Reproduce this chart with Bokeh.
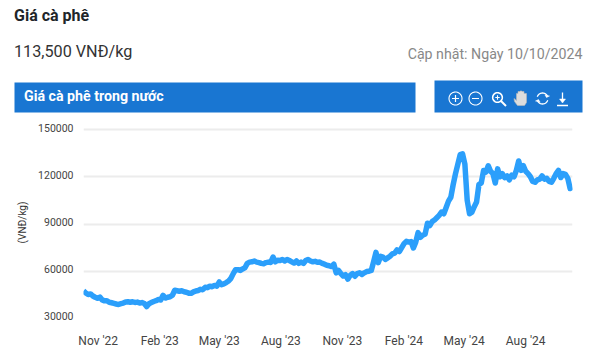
import numpy as np
import pandas as pd
from bokeh.core.properties import value
from bokeh.embed import file_html
from bokeh.layouts import column
from bokeh.models import DatetimeTickFormatter, MonthsTicker, Range1d, FixedTicker
from bokeh.plotting import figure
from bokeh.resources import INLINE

TITLE = "Giá cà phê"
PRICE = "113,500 VNĐ/kg"
UPDATED = "Cập nhật: Ngày 10/10/2024"
BAR_TITLE = "Giá cà phê trong nước"
Y_LABEL = "(VNĐ/kg)"
Y_TICKS = [30000, 60000, 90000, 120000, 150000]
START = "2022-10-10"
END = "2024-10-10"

prices = [
    47500, 46200, 45200, 45600, 44300, 43500, 42800, 43600, 41800, 41200,
    41300, 40300, 40000, 39600, 39200, 38900, 39400, 39800, 40500, 40600,
    40300, 40600, 40200, 40400, 39800, 40100, 39500, 37600, 39400, 40100,
    40800, 41300, 42000, 41800, 44700, 43000, 43500, 43800, 44800, 47900,
    47600, 47300, 47600, 47000, 46700, 46100, 46000, 46900, 47500, 47800,
    48500, 48300, 49800, 49600, 50500, 50200, 51000, 50500, 53200, 51500,
    52000, 52800, 53800, 55500, 58500, 61000, 61000, 60500, 61500, 62200,
    65000, 65800, 66000, 66500, 65800, 65500, 65000, 64800, 65500, 65800,
    65600, 69000, 66000, 67000, 66800, 67500, 66500, 67500, 66800, 66000,
    65200, 66500, 65000, 65800, 65000, 66800, 67500, 66500, 66000, 66300,
    65700, 65800, 65000, 64500, 63800, 63500, 63000, 64500, 59000, 60500,
    58500, 57000, 57800, 55000, 57500, 58500, 56800, 58500, 59000, 58000,
    59000, 59800, 60000, 60500, 66000, 72000, 65500, 69500, 69000, 67500,
    68500, 69500, 71000, 71500, 73500, 72500, 75000, 77500, 79000, 78500,
    78800, 74800, 78500, 84500, 81500, 83000, 83500, 90500, 89000, 91500,
    92500, 94000, 95500, 97500, 96500, 100500, 104500, 107000, 115000, 122000,
    128000, 134000, 134500, 128000, 105000, 96500, 97500, 101000, 104000, 115000,
    116000, 124000, 123000, 127000, 123500, 122000, 116000, 125000, 120000, 122000,
    119500, 120500, 118000, 121000, 120000, 124000, 130000, 124000, 127000, 123500,
    122000, 120000, 117000, 116500, 118000, 118500, 120500, 118500, 119000, 117000,
    116500, 119000, 122000, 124000, 119500, 122000, 121500, 119000, 112500, 113500,
]

dates = pd.date_range(START, END, periods=len(prices))

W = 585
HEAD_H = 120
BLUE = "#1976d2"

# ---------- header strip: ranges are pixels ----------
h = figure(width=W, height=HEAD_H, output_backend="svg", toolbar_location=None,
           x_range=Range1d(0, W), y_range=Range1d(HEAD_H, 0),
           x_axis_location=None, y_axis_location=None, frame_align=False,
           min_border=0, min_border_left=0, min_border_right=0, min_border_top=0, min_border_bottom=0)
h.outline_line_color = None
h.grid.visible = False


def label(text, x, y, size, color, align="left", weight="normal"):
    h.text([x], [y], text=[text], text_font=value("Roboto"), text_font_size=size, text_color=color,
           text_align=align, text_baseline="middle", text_font_style=weight)


def poly(xs, ys, fill=None, line="white", lw=1.2):
    if fill:
        h.patch(list(xs), list(ys), fill_color=fill, line_color=line, line_width=lw)
    else:
        h.line(list(xs), list(ys), line_color=line, line_width=lw)


def circle(cx, cy, r, lw=1.1):
    t = np.linspace(0, 2 * np.pi, 40)
    poly(cx + r * np.cos(t), cy + r * np.sin(t), lw=lw)


label(TITLE, 13.5, 15, "16px", "#212529", weight="bold")
label(PRICE, 13.5, 51, "16.2px", "#333333")
label(UPDATED, 582, 53.5, "14.2px", "#888888", align="right")
h.quad(left=[14], right=[415], top=[82], bottom=[112], fill_color=BLUE, line_color=None)
label(BAR_TITLE, 23.5, 95.5, "14.2px", "#ffffff", weight="bold")
h.quad(left=[434], right=[582], top=[80], bottom=[112], fill_color=BLUE, line_color=None)

WHITE = "#ffffff"
circle(455, 98, 6.5)
poly([451.5, 458.5], [98, 98])
poly([455, 455], [94.5, 101.5])
circle(475, 98, 6.5)
poly([471.5, 478.5], [98, 98])
circle(497, 97, 4.8, lw=1.6)
poly([500.5, 505.5], [100.5, 105.5], lw=2)
poly([494.8, 499.2], [97, 97], lw=1.1)
poly([497, 497], [94.8, 99.2], lw=1.1)
poly([513.5, 516, 516, 517.5, 517.5, 519.5, 519.5, 521.5, 521.5, 523.5, 523.5, 526,
      526, 524, 517, 514],
     [98, 100, 93, 93, 91, 91, 90.5, 90.5, 91, 91, 93, 93, 102, 105, 105, 101],
     fill="#dddddd", line="#bbbbbb", lw=0.6)
t = np.linspace(np.pi * 1.1, np.pi * 1.85, 14)
poly(542 + 5.5 * np.cos(t), 98 + 5.5 * np.sin(t), lw=1.3)
t2 = t - np.pi
poly(542 + 5.5 * np.cos(t2), 98 + 5.5 * np.sin(t2), lw=1.3)
poly([546, 549, 544.5], [97, 95.5, 94.5], fill=WHITE, lw=0.5)
poly([538, 535, 539.5], [99, 100.5, 101.5], fill=WHITE, lw=0.5)
poly([562, 562], [92, 101], lw=1.3)
poly([559, 565, 562], [98.5, 98.5, 102.5], fill=WHITE, lw=0.5)
poly([556.5, 567.5], [105, 105], lw=1.3)

# ---------- chart ----------
# 635 VND per pixel; three spare pixels above the 150000 gridline keep its label in range
p = figure(width=W, height=232, output_backend="svg", toolbar_location=None,
           x_axis_type="datetime", frame_align=False,
           x_range=Range1d(pd.Timestamp(START), pd.Timestamp(END)),
           y_range=Range1d(30000, 151905),
           min_border_left=83, min_border_right=W - 572, min_border_top=6, min_border_bottom=34)
p.outline_line_color = None
p.xgrid.visible = False
p.ygrid.grid_line_color = "#ececec"
p.ygrid.grid_line_width = 2
p.ygrid.ticker = FixedTicker(ticks=Y_TICKS)

# the reference's tick labels sit about 2px above their gridlines
LABEL_SHIFT = 1270
p.yaxis.ticker = FixedTicker(ticks=[v + LABEL_SHIFT for v in Y_TICKS])
p.yaxis.major_label_overrides = {v + LABEL_SHIFT: str(v) for v in Y_TICKS}
p.yaxis.major_label_text_font = "Roboto"
p.yaxis.major_label_text_font_size = "10.5px"
p.yaxis.major_label_text_color = "#444444"
p.yaxis.major_label_standoff = 10
p.yaxis.major_tick_out = 0
p.yaxis.major_tick_in = 0
p.yaxis.axis_line_color = None
p.yaxis.major_tick_line_color = None
p.yaxis.minor_tick_line_color = None
p.yaxis.axis_label = Y_LABEL
p.yaxis.axis_label_text_font = "Roboto"
p.yaxis.axis_label_text_font_style = "normal"
p.yaxis.axis_label_text_font_size = "10px"
p.yaxis.axis_label_text_color = "#333333"
p.yaxis.axis_label_standoff = 7

p.xaxis.ticker = MonthsTicker(months=[1, 4, 7, 10])
p.xaxis.formatter = DatetimeTickFormatter(months="%b '%y", days="%b '%y")
p.xaxis.major_label_text_font = "Roboto"
p.xaxis.major_label_text_font_size = "12px"
p.xaxis.major_label_text_color = "#444444"
p.xaxis.major_label_standoff = 15
p.xaxis.major_tick_out = 0
p.xaxis.major_tick_in = 0
p.xaxis.axis_line_color = None
p.xaxis.major_tick_line_color = None
p.xaxis.minor_tick_line_color = None

p.line(dates, prices, line_color="#2b9ffb", line_width=5.5, line_join="round")

open("out.html", "w").write(file_html(column(h, p, spacing=0), INLINE))
